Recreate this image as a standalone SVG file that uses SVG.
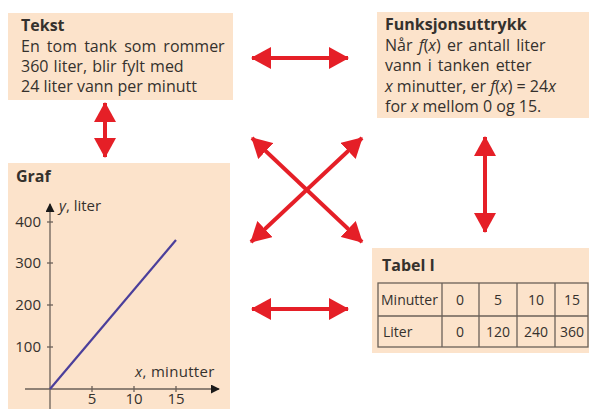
<svg xmlns="http://www.w3.org/2000/svg" width="589" height="409" viewBox="0 0 589 409">
<defs>
<style>
.box{fill:#fce3cb}
.t{font-family:"Open Sans","Liberation Sans",sans-serif;font-size:16px;fill:#35312d}
.s{font-size:15px}
.tb{font-size:14px}
.b{font-weight:bold}
.i{font-style:italic}
.arr{stroke:#e51f27;stroke-width:4;fill:none;marker-start:url(#ah);marker-end:url(#ah)}
.ax{stroke:#6b6158;stroke-width:1.3;fill:none}
.grid{stroke:#6b6158;stroke-width:1.3;fill:none}
.c{text-anchor:middle}
.r{text-anchor:end}
</style>
<marker id="ah" viewBox="0 0 20 22" markerWidth="20" markerHeight="22" refX="19" refY="11" orient="auto-start-reverse" markerUnits="userSpaceOnUse">
<path d="M0,0 L20,11 L0,22 z" fill="#e51f27"/>
</marker>
<marker id="bh" viewBox="0 0 10 10" markerWidth="9" markerHeight="9" refX="9" refY="5" orient="auto" markerUnits="userSpaceOnUse">
<path d="M0,0 L10,5 L0,10 z" fill="#1a1a1a"/>
</marker>
</defs>
<rect width="589" height="409" fill="#ffffff"/>

<g id="tekst">
<rect class="box" x="8" y="13" width="225" height="87"/>
<text class="t b" x="21" y="31">Tekst</text>
<text class="t" x="21" y="52" word-spacing="3">En tom tank som rommer</text>
<text class="t" x="21" y="72" word-spacing="1">360 liter, blir fylt med</text>
<text class="t" x="21" y="92">24 liter vann per minutt</text>
</g>

<g id="funksjonsuttrykk">
<rect class="box" x="377" y="12" width="212" height="106"/>
<text class="t b" x="385" y="30">Funksjonsuttrykk</text>
<text class="t" x="385" y="51" word-spacing="2">Når <tspan class="i">f</tspan>(<tspan class="i">x</tspan>)  er antall liter</text>
<text class="t" x="385" y="71" word-spacing="2">vann i tanken etter</text>
<text class="t" x="385" y="92"><tspan class="i">x</tspan> minutter, er <tspan class="i">f</tspan>(<tspan class="i">x</tspan>) = 24<tspan class="i">x</tspan></text>
<text class="t" x="385" y="112">for <tspan class="i">x</tspan> mellom 0 og 15.</text>
</g>

<g id="graf">
<rect class="box" x="8" y="163" width="222" height="246"/>
<text class="t b" x="16" y="182">Graf</text>
<line class="ax" x1="50" y1="409" x2="50" y2="204" marker-end="url(#bh)"/>
<line class="ax" x1="25" y1="389" x2="219" y2="389" marker-end="url(#bh)"/>
<g class="ax">
<line x1="47" y1="222" x2="53" y2="222"/>
<line x1="47" y1="263" x2="53" y2="263"/>
<line x1="47" y1="305" x2="53" y2="305"/>
<line x1="47" y1="347" x2="53" y2="347"/>
<line x1="92" y1="386" x2="92" y2="392"/>
<line x1="134" y1="386" x2="134" y2="392"/>
<line x1="176" y1="386" x2="176" y2="392"/>
</g>
<text class="t s r" x="41" y="227">400</text>
<text class="t s r" x="41" y="268">300</text>
<text class="t s r" x="41" y="310">200</text>
<text class="t s r" x="41" y="352">100</text>
<text class="t s c" x="92" y="404">5</text>
<text class="t s c" x="134" y="404">10</text>
<text class="t s c" x="176" y="404">15</text>
<text class="t s" x="59" y="211"><tspan class="i">y</tspan>, liter</text>
<text class="t s" x="135" y="377" letter-spacing="0.3"><tspan class="i">x</tspan>, minutter</text>
<line x1="50" y1="389" x2="176" y2="240" stroke="#4b3f9b" stroke-width="2.2"/>
</g>

<g id="tabel">
<rect class="box" x="372" y="248" width="217" height="105"/>
<text class="t b" x="382" y="271">Tabel I</text>
<g class="grid">
<rect x="378" y="283" width="210" height="64"/>
<line x1="378" y1="316" x2="588" y2="316"/>
<line x1="442" y1="283" x2="442" y2="347"/>
<line x1="479" y1="283" x2="479" y2="347"/>
<line x1="517" y1="283" x2="517" y2="347"/>
<line x1="555" y1="283" x2="555" y2="347"/>
</g>
<text class="t tb" x="381" y="305">Minutter</text>
<text class="t tb c" x="460" y="305">0</text>
<text class="t tb c" x="498" y="305">5</text>
<text class="t tb c" x="536" y="305">10</text>
<text class="t tb c" x="572" y="305">15</text>
<text class="t tb" x="383" y="337">Liter</text>
<text class="t tb c" x="460" y="337">0</text>
<text class="t tb c" x="498" y="337">120</text>
<text class="t tb c" x="536" y="337">240</text>
<text class="t tb c" x="572" y="337">360</text>
</g>

<g id="connectors">
<line class="arr" x1="252" y1="58" x2="348" y2="58"/>
<line class="arr" x1="252" y1="309" x2="348" y2="309"/>
<line class="arr" x1="252" y1="138" x2="362" y2="242"/>
<line class="arr" x1="362" y1="138" x2="251" y2="242"/>
<line class="arr" x1="105" y1="103" x2="105" y2="157"/>
<line class="arr" x1="485" y1="137" x2="485" y2="232"/>
</g>
</svg>
